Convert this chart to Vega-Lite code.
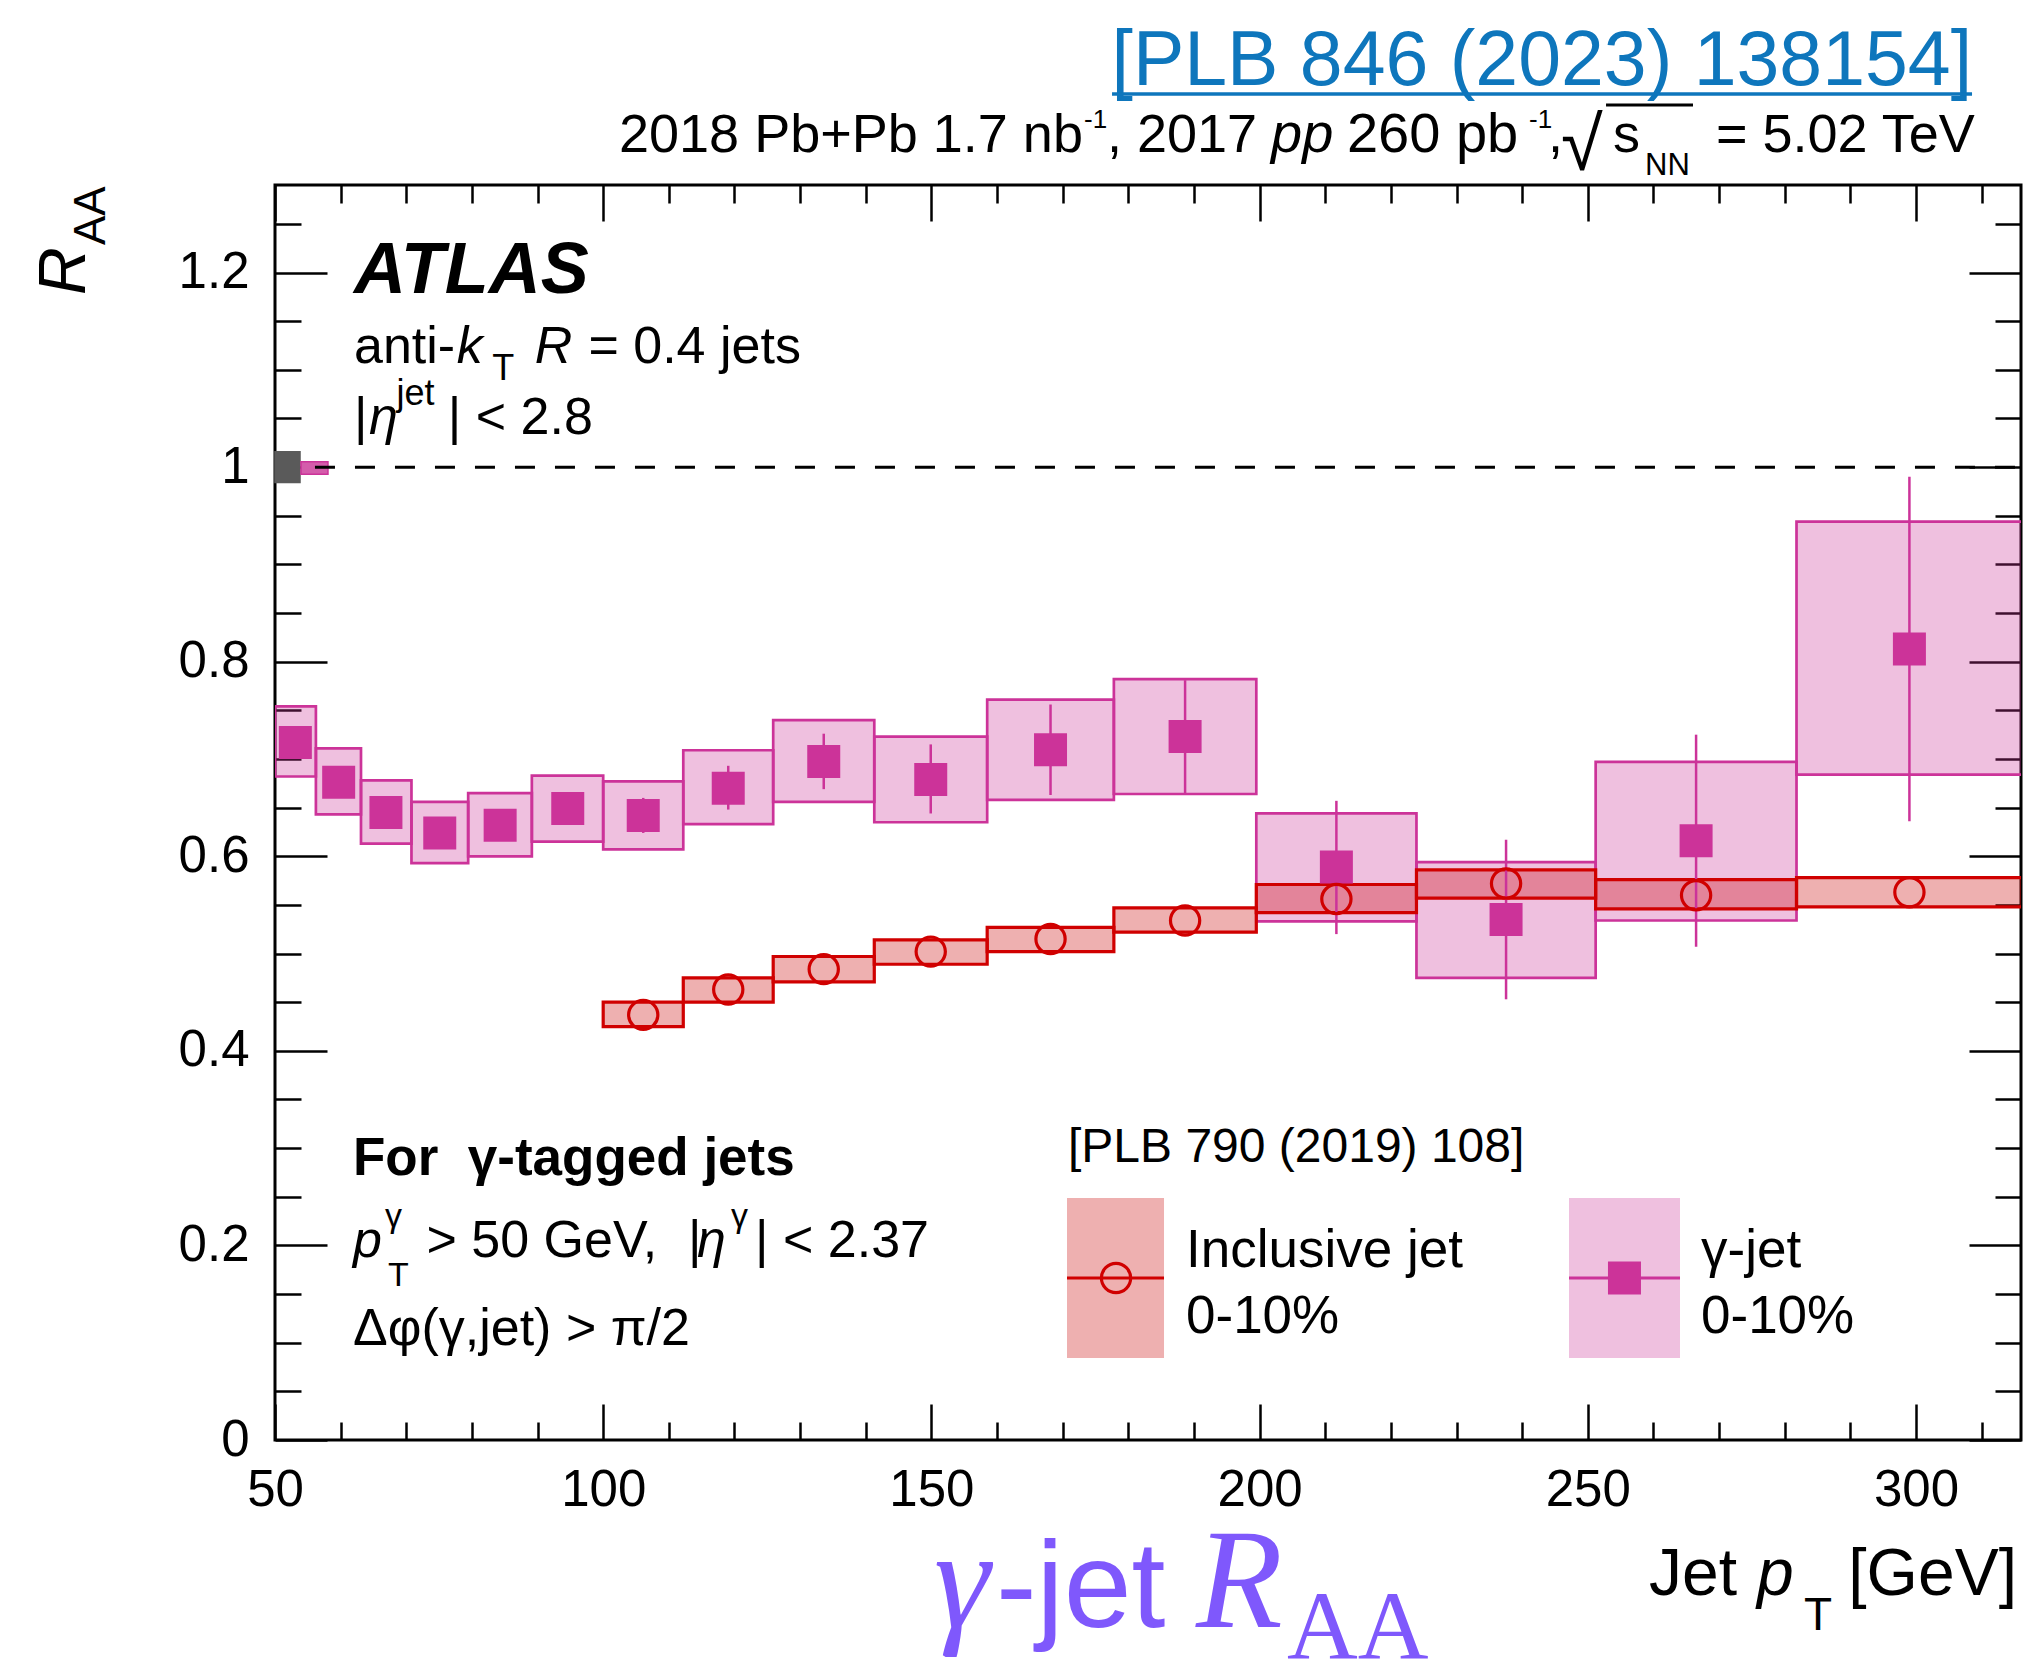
{
  "$schema": "https://vega.github.io/schema/vega-lite/v6.json",
  "width": 1746,
  "height": 1255,
  "autosize": {"type": "none"},
  "padding": {"left": 275, "top": 185, "right": 2, "bottom": 221},
  "background": "white",
  "config": {"view": {"stroke": "black", "strokeWidth": 3}, "axis": {"grid": false}},
  "data": {"values": [{}]},
  "datasets": {
    "gamma": [
      {"ptLo": 50, "ptHi": 56.23, "pt": 53.1, "raa": 0.717, "statLo": 0.707, "statHi": 0.727, "sysLo": 0.682, "sysHi": 0.754},
      {"ptLo": 56.23, "ptHi": 63.1, "pt": 59.7, "raa": 0.676, "statLo": 0.666, "statHi": 0.686, "sysLo": 0.643, "sysHi": 0.711},
      {"ptLo": 63.1, "ptHi": 70.79, "pt": 66.9, "raa": 0.645, "statLo": 0.635, "statHi": 0.655, "sysLo": 0.613, "sysHi": 0.678},
      {"ptLo": 70.79, "ptHi": 79.43, "pt": 75.1, "raa": 0.624, "statLo": 0.614, "statHi": 0.634, "sysLo": 0.593, "sysHi": 0.656},
      {"ptLo": 79.43, "ptHi": 89.13, "pt": 84.3, "raa": 0.632, "statLo": 0.622, "statHi": 0.642, "sysLo": 0.6, "sysHi": 0.665},
      {"ptLo": 89.13, "ptHi": 100, "pt": 94.6, "raa": 0.649, "statLo": 0.639, "statHi": 0.659, "sysLo": 0.615, "sysHi": 0.683},
      {"ptLo": 100, "ptHi": 112.2, "pt": 106.1, "raa": 0.642, "statLo": 0.624, "statHi": 0.66, "sysLo": 0.607, "sysHi": 0.677},
      {"ptLo": 112.2, "ptHi": 125.9, "pt": 119.05, "raa": 0.67, "statLo": 0.648, "statHi": 0.693, "sysLo": 0.633, "sysHi": 0.709},
      {"ptLo": 125.9, "ptHi": 141.3, "pt": 133.6, "raa": 0.6975, "statLo": 0.669, "statHi": 0.726, "sysLo": 0.656, "sysHi": 0.74},
      {"ptLo": 141.3, "ptHi": 158.5, "pt": 149.9, "raa": 0.679, "statLo": 0.644, "statHi": 0.715, "sysLo": 0.635, "sysHi": 0.723},
      {"ptLo": 158.5, "ptHi": 177.8, "pt": 168.15, "raa": 0.7095, "statLo": 0.663, "statHi": 0.756, "sysLo": 0.658, "sysHi": 0.761},
      {"ptLo": 177.8, "ptHi": 199.5, "pt": 188.65, "raa": 0.723, "statLo": 0.665, "statHi": 0.781, "sysLo": 0.664, "sysHi": 0.782},
      {"ptLo": 199.5, "ptHi": 223.9, "pt": 211.7, "raa": 0.589, "statLo": 0.52, "statHi": 0.657, "sysLo": 0.533, "sysHi": 0.644},
      {"ptLo": 223.9, "ptHi": 251.2, "pt": 237.55, "raa": 0.535, "statLo": 0.453, "statHi": 0.617, "sysLo": 0.475, "sysHi": 0.594},
      {"ptLo": 251.2, "ptHi": 281.8, "pt": 266.5, "raa": 0.616, "statLo": 0.507, "statHi": 0.725, "sysLo": 0.534, "sysHi": 0.697},
      {"ptLo": 281.8, "ptHi": 316.2, "pt": 299.0, "raa": 0.813, "statLo": 0.636, "statHi": 0.99, "sysLo": 0.684, "sysHi": 0.944}
    ],
    "incl": [
      {"ptLo": 100, "ptHi": 112.2, "pt": 106.1, "raa": 0.437, "sysLo": 0.425, "sysHi": 0.45},
      {"ptLo": 112.2, "ptHi": 125.9, "pt": 119.05, "raa": 0.463, "sysLo": 0.45, "sysHi": 0.475},
      {"ptLo": 125.9, "ptHi": 141.3, "pt": 133.6, "raa": 0.484, "sysLo": 0.471, "sysHi": 0.497},
      {"ptLo": 141.3, "ptHi": 158.5, "pt": 149.9, "raa": 0.502, "sysLo": 0.489, "sysHi": 0.514},
      {"ptLo": 158.5, "ptHi": 177.8, "pt": 168.15, "raa": 0.515, "sysLo": 0.502, "sysHi": 0.527},
      {"ptLo": 177.8, "ptHi": 199.5, "pt": 188.65, "raa": 0.534, "sysLo": 0.522, "sysHi": 0.547},
      {"ptLo": 199.5, "ptHi": 223.9, "pt": 211.7, "raa": 0.556, "sysLo": 0.542, "sysHi": 0.571},
      {"ptLo": 223.9, "ptHi": 251.2, "pt": 237.55, "raa": 0.572, "sysLo": 0.557, "sysHi": 0.586},
      {"ptLo": 251.2, "ptHi": 281.8, "pt": 266.5, "raa": 0.56, "sysLo": 0.546, "sysHi": 0.576},
      {"ptLo": 281.8, "ptHi": 316.2, "pt": 299.0, "raa": 0.563, "sysLo": 0.548, "sysHi": 0.578}
    ],
    "norm": [
      {"series": "global", "ptLo": 50, "ptHi": 53.81, "lo": 0.9843, "hi": 1.0157},
      {"series": "gamma", "ptLo": 53.96, "ptHi": 58.07, "lo": 0.9926, "hi": 1.0055}
    ]
  },
  "layer": [
    {
      "data": {"name": "gamma"},
      "mark": {"type": "rect", "fill": "#cc3399", "fillOpacity": 0.31, "stroke": "#cc3399", "strokeWidth": 2.7, "clip": true},
      "encoding": {
        "x": {"field": "ptLo", "type": "quantitative",
          "scale": {"domain": [50, 316], "nice": false, "zero": false},
          "axis": {"orient": "bottom", "values": [50,60,70,80,90,100,110,120,130,140,150,160,170,180,190,200,210,220,230,240,250,260,270,280,290,300,310],
            "domain": false, "grid": false, "tickColor": "black", "tickWidth": 2.5,
            "tickSize": {"condition": {"test": "datum.value % 50 === 0", "value": -36}, "value": -18},
            "labelExpr": "datum.value % 50 === 0 ? datum.label : ''",
            "labelFont": "Liberation Sans", "labelFontSize": 51, "labelColor": "black",
            "labelPadding": 61, "labelBaseline": "top", "labelAlign": "center",
            "labelFlush": false, "labelOverlap": false, "labelBound": false, "title": null}},
        "x2": {"field": "ptHi"},
        "y": {"field": "sysLo", "type": "quantitative",
          "scale": {"domain": [0, 1.29], "nice": false, "zero": false},
          "axis": {"orient": "left", "values": [0,0.05,0.1,0.15,0.2,0.25,0.3,0.35,0.4,0.45,0.5,0.55,0.6,0.65,0.7,0.75,0.8,0.85,0.9,0.95,1,1.05,1.1,1.15,1.2,1.25],
            "domain": false, "grid": false, "tickColor": "black", "tickWidth": 2.5,
            "tickSize": {"condition": {"test": "round(datum.value*100) % 20 === 0", "value": -52}, "value": -26},
            "labelExpr": "round(datum.value*100) % 20 === 0 ? format(datum.value, '~g') : ''",
            "labelFont": "Liberation Sans", "labelFontSize": 51, "labelColor": "black",
            "labelPadding": 78, "labelBaseline": "middle", "labelAlign": "right",
            "labelFlush": false, "labelOverlap": false, "labelBound": false, "title": null}},
        "y2": {"field": "sysHi"}
      }
    },
    {
      "data": {"name": "incl"},
      "mark": {"type": "rect", "fill": "#c80000", "fillOpacity": 0.31, "stroke": "#d00000", "strokeWidth": 3.2, "clip": true},
      "encoding": {
        "x": {"field": "ptLo", "type": "quantitative",
          "axis": {"orient": "top", "values": [50,60,70,80,90,100,110,120,130,140,150,160,170,180,190,200,210,220,230,240,250,260,270,280,290,300,310],
            "domain": false, "grid": false, "labels": false, "tickColor": "black", "tickWidth": 2.5,
            "tickSize": {"condition": {"test": "datum.value % 50 === 0", "value": -36}, "value": -18}, "title": null}},
        "x2": {"field": "ptHi"},
        "y": {"field": "sysLo", "type": "quantitative",
          "axis": {"orient": "right", "values": [0,0.05,0.1,0.15,0.2,0.25,0.3,0.35,0.4,0.45,0.5,0.55,0.6,0.65,0.7,0.75,0.8,0.85,0.9,0.95,1,1.05,1.1,1.15,1.2,1.25],
            "domain": false, "grid": false, "labels": false, "tickColor": "black", "tickWidth": 2.5,
            "tickSize": {"condition": {"test": "round(datum.value*100) % 20 === 0", "value": -52}, "value": -26}, "title": null}},
        "y2": {"field": "sysHi"}
      }
    },
    {
      "data": {"name": "norm"},
      "mark": {"type": "rect", "strokeWidth": 1.5, "opacity": 1},
      "encoding": {
        "x": {"field": "ptLo", "type": "quantitative", "axis": null},
        "x2": {"field": "ptHi"},
        "y": {"field": "lo", "type": "quantitative", "axis": null},
        "y2": {"field": "hi"},
        "fill": {"field": "series", "type": "nominal", "scale": {"domain": ["global", "gamma"], "range": ["#5a5a5a", "#d45cab"]}, "legend": null},
        "stroke": {"field": "series", "type": "nominal", "scale": {"domain": ["global", "gamma"], "range": ["#5a5a5a", "#cc3399"]}, "legend": null}
      }
    },
    {
      "mark": {"type": "rule", "stroke": "black", "strokeWidth": 3, "strokeDash": [20, 20]},
      "encoding": {"x": {"datum": 56.09, "axis": null}, "x2": {"datum": 316}, "y": {"datum": 1, "axis": null}}
    },
    {
      "data": {"name": "gamma"},
      "mark": {"type": "rule", "stroke": "#cc3399", "strokeWidth": 2.5},
      "encoding": {
        "x": {"field": "pt", "type": "quantitative", "axis": null},
        "y": {"field": "statLo", "type": "quantitative", "axis": null},
        "y2": {"field": "statHi"}
      }
    },
    {
      "data": {"name": "gamma"},
      "mark": {"type": "point", "shape": "square", "size": 1089, "filled": true, "fill": "#cc3399", "opacity": 1, "strokeWidth": 0},
      "encoding": {
        "x": {"field": "pt", "type": "quantitative", "axis": null},
        "y": {"field": "raa", "type": "quantitative", "axis": null}
      }
    },
    {
      "data": {"name": "incl"},
      "mark": {"type": "point", "shape": "circle", "size": 855, "filled": false, "stroke": "#d00000", "strokeWidth": 3.2, "opacity": 1},
      "encoding": {
        "x": {"field": "pt", "type": "quantitative", "axis": null},
        "y": {"field": "raa", "type": "quantitative", "axis": null}
      }
    },
    {
      "mark": {"type": "rect", "fill": "#c80000", "fillOpacity": 0.31, "strokeWidth": 0},
      "encoding": {"x": {"datum": 170.66, "axis": null}, "x2": {"datum": 185.44}, "y": {"datum": 0.0843, "axis": null}, "y2": {"datum": 0.2487}}
    },
    {
      "mark": {"type": "rect", "fill": "#cc3399", "fillOpacity": 0.31, "strokeWidth": 0},
      "encoding": {"x": {"datum": 247.14, "axis": null}, "x2": {"datum": 264.05}, "y": {"datum": 0.0843, "axis": null}, "y2": {"datum": 0.2487}}
    },
    {
      "mark": {"type": "rule", "stroke": "#d00000", "strokeWidth": 3.2},
      "encoding": {"x": {"datum": 170.66, "axis": null}, "x2": {"datum": 185.44}, "y": {"datum": 0.1665, "axis": null}}
    },
    {
      "mark": {"type": "rule", "stroke": "#cc3399", "strokeWidth": 3},
      "encoding": {"x": {"datum": 247.14, "axis": null}, "x2": {"datum": 264.05}, "y": {"datum": 0.1665, "axis": null}}
    },
    {
      "mark": {"type": "point", "shape": "circle", "size": 855, "filled": false, "stroke": "#d00000", "strokeWidth": 3.2, "opacity": 1},
      "encoding": {"x": {"datum": 178.13, "axis": null}, "y": {"datum": 0.1665, "axis": null}}
    },
    {
      "mark": {"type": "point", "shape": "square", "size": 1089, "filled": true, "fill": "#cc3399", "opacity": 1, "strokeWidth": 0},
      "encoding": {"x": {"datum": 255.59, "axis": null}, "y": {"datum": 0.1665, "axis": null}}
    },
    {
      "mark": {"type": "text", "text": "[PLB 846 (2023) 138154]", "font": "Liberation Sans", "fontSize": 77, "align": "right", "baseline": "alphabetic", "fill": "#0e76bc"},
      "encoding": {"x": {"datum": 308.54, "axis": null}, "y": {"datum": 1.3928, "axis": null}}
    },
    {
      "mark": {"type": "rule", "stroke": "#0e76bc", "strokeWidth": 3.5},
      "encoding": {"x": {"datum": 177.52, "axis": null}, "x2": {"datum": 308.54}, "y": {"datum": 1.3835, "axis": null}}
    },
    {
      "mark": {"type": "text", "text": "2018 Pb+Pb 1.7 nb", "font": "Liberation Sans", "fontSize": 54, "align": "left", "baseline": "alphabetic", "fill": "black"},
      "encoding": {"x": {"datum": 102.41, "axis": null}, "y": {"datum": 1.3239, "axis": null}}
    },
    {
      "mark": {"type": "text", "text": "-1", "font": "Liberation Sans", "fontSize": 26, "align": "left", "baseline": "alphabetic", "fill": "black"},
      "encoding": {"x": {"datum": 173.25, "axis": null}, "y": {"datum": 1.3486, "axis": null}}
    },
    {
      "mark": {"type": "text", "text": ", 2017", "font": "Liberation Sans", "fontSize": 54, "align": "left", "baseline": "alphabetic", "fill": "black"},
      "encoding": {"x": {"datum": 176.75, "axis": null}, "y": {"datum": 1.3239, "axis": null}}
    },
    {
      "mark": {"type": "text", "text": "pp", "font": "Liberation Sans", "fontSize": 56, "fontStyle": "italic", "align": "left", "baseline": "alphabetic", "fill": "black"},
      "encoding": {"x": {"datum": 201.74, "axis": null}, "y": {"datum": 1.3239, "axis": null}}
    },
    {
      "mark": {"type": "text", "text": "260 pb", "font": "Liberation Sans", "fontSize": 56, "align": "left", "baseline": "alphabetic", "fill": "black"},
      "encoding": {"x": {"datum": 213.3, "axis": null}, "y": {"datum": 1.3239, "axis": null}}
    },
    {
      "mark": {"type": "text", "text": "-1", "font": "Liberation Sans", "fontSize": 26, "align": "left", "baseline": "alphabetic", "fill": "black"},
      "encoding": {"x": {"datum": 241.05, "axis": null}, "y": {"datum": 1.3486, "axis": null}}
    },
    {
      "mark": {"type": "text", "text": ",", "font": "Liberation Sans", "fontSize": 54, "align": "left", "baseline": "alphabetic", "fill": "black"},
      "encoding": {"x": {"datum": 243.94, "axis": null}, "y": {"datum": 1.3239, "axis": null}}
    },
    {
      "mark": {"type": "text", "text": "√", "font": "Liberation Sans", "fontSize": 76, "align": "left", "baseline": "alphabetic", "fill": "black"},
      "encoding": {"x": {"datum": 245.92, "axis": null}, "y": {"datum": 1.3054, "axis": null}}
    },
    {
      "mark": {"type": "rule", "stroke": "black", "strokeWidth": 3},
      "encoding": {"x": {"datum": 252.78, "axis": null}, "x2": {"datum": 266.03}, "y": {"datum": 1.3722, "axis": null}}
    },
    {
      "mark": {"type": "text", "text": "s", "font": "Liberation Sans", "fontSize": 54, "align": "left", "baseline": "alphabetic", "fill": "black"},
      "encoding": {"x": {"datum": 253.84, "axis": null}, "y": {"datum": 1.3239, "axis": null}}
    },
    {
      "mark": {"type": "text", "text": "NN", "font": "Liberation Sans", "fontSize": 31, "align": "left", "baseline": "alphabetic", "fill": "black"},
      "encoding": {"x": {"datum": 258.72, "axis": null}, "y": {"datum": 1.3003, "axis": null}}
    },
    {
      "mark": {"type": "text", "text": "= 5.02 TeV", "font": "Liberation Sans", "fontSize": 54, "align": "left", "baseline": "alphabetic", "fill": "black"},
      "encoding": {"x": {"datum": 269.53, "axis": null}, "y": {"datum": 1.3239, "axis": null}}
    },
    {
      "mark": {"type": "text", "text": "ATLAS", "font": "Liberation Sans", "fontSize": 72, "fontWeight": "bold", "fontStyle": "italic", "align": "left", "baseline": "alphabetic", "fill": "black"},
      "encoding": {"x": {"datum": 62.04, "axis": null}, "y": {"datum": 1.179, "axis": null}}
    },
    {
      "mark": {"type": "text", "text": "anti-", "font": "Liberation Sans", "fontSize": 52, "align": "left", "baseline": "alphabetic", "fill": "black"},
      "encoding": {"x": {"datum": 62.04, "axis": null}, "y": {"datum": 1.107, "axis": null}}
    },
    {
      "mark": {"type": "text", "text": "k", "font": "Liberation Sans", "fontSize": 52, "fontStyle": "italic", "align": "left", "baseline": "alphabetic", "fill": "black"},
      "encoding": {"x": {"datum": 77.68, "axis": null}, "y": {"datum": 1.107, "axis": null}}
    },
    {
      "mark": {"type": "text", "text": "T", "font": "Liberation Sans", "fontSize": 36, "align": "left", "baseline": "alphabetic", "fill": "black"},
      "encoding": {"x": {"datum": 83.1, "axis": null}, "y": {"datum": 1.0896, "axis": null}}
    },
    {
      "mark": {"type": "text", "text": "R", "font": "Liberation Sans", "fontSize": 52, "fontStyle": "italic", "align": "left", "baseline": "alphabetic", "fill": "black"},
      "encoding": {"x": {"datum": 89.58, "axis": null}, "y": {"datum": 1.107, "axis": null}}
    },
    {
      "mark": {"type": "text", "text": "= 0.4 jets", "font": "Liberation Sans", "fontSize": 52, "align": "left", "baseline": "alphabetic", "fill": "black"},
      "encoding": {"x": {"datum": 97.75, "axis": null}, "y": {"datum": 1.107, "axis": null}}
    },
    {
      "mark": {"type": "text", "text": "|", "font": "Liberation Sans", "fontSize": 52, "align": "left", "baseline": "alphabetic", "fill": "black"},
      "encoding": {"x": {"datum": 62.04, "axis": null}, "y": {"datum": 1.0345, "axis": null}}
    },
    {
      "mark": {"type": "text", "text": "η", "font": "Liberation Sans", "fontSize": 52, "fontStyle": "italic", "align": "left", "baseline": "alphabetic", "fill": "black"},
      "encoding": {"x": {"datum": 64.32, "axis": null}, "y": {"datum": 1.0345, "axis": null}}
    },
    {
      "mark": {"type": "text", "text": "jet", "font": "Liberation Sans", "fontSize": 36, "align": "left", "baseline": "alphabetic", "fill": "black"},
      "encoding": {"x": {"datum": 68.5, "axis": null}, "y": {"datum": 1.0639, "axis": null}}
    },
    {
      "mark": {"type": "text", "text": "| < 2.8", "font": "Liberation Sans", "fontSize": 52, "align": "left", "baseline": "alphabetic", "fill": "black"},
      "encoding": {"x": {"datum": 76.33, "axis": null}, "y": {"datum": 1.0345, "axis": null}}
    },
    {
      "mark": {"type": "text", "text": "For\u00a0 γ-tagged jets", "font": "Liberation Sans", "fontSize": 53, "fontWeight": "bold", "align": "left", "baseline": "alphabetic", "fill": "black"},
      "encoding": {"x": {"datum": 61.88, "axis": null}, "y": {"datum": 0.2724, "axis": null}}
    },
    {
      "mark": {"type": "text", "text": "p", "font": "Liberation Sans", "fontSize": 52, "fontStyle": "italic", "align": "left", "baseline": "alphabetic", "fill": "black"},
      "encoding": {"x": {"datum": 61.88, "axis": null}, "y": {"datum": 0.1881, "axis": null}}
    },
    {
      "mark": {"type": "text", "text": "γ", "font": "Liberation Sans", "fontSize": 34, "align": "left", "baseline": "alphabetic", "fill": "black"},
      "encoding": {"x": {"datum": 66.76, "axis": null}, "y": {"datum": 0.2189, "axis": null}}
    },
    {
      "mark": {"type": "text", "text": "T", "font": "Liberation Sans", "fontSize": 34, "align": "left", "baseline": "alphabetic", "fill": "black"},
      "encoding": {"x": {"datum": 67.22, "axis": null}, "y": {"datum": 0.1583, "axis": null}}
    },
    {
      "mark": {"type": "text", "text": "> 50 GeV,", "font": "Liberation Sans", "fontSize": 52, "align": "left", "baseline": "alphabetic", "fill": "black"},
      "encoding": {"x": {"datum": 73.07, "axis": null}, "y": {"datum": 0.1881, "axis": null}}
    },
    {
      "mark": {"type": "text", "text": "|", "font": "Liberation Sans", "fontSize": 52, "align": "left", "baseline": "alphabetic", "fill": "black"},
      "encoding": {"x": {"datum": 112.92, "axis": null}, "y": {"datum": 0.1881, "axis": null}}
    },
    {
      "mark": {"type": "text", "text": "η", "font": "Liberation Sans", "fontSize": 52, "fontStyle": "italic", "align": "left", "baseline": "alphabetic", "fill": "black"},
      "encoding": {"x": {"datum": 114.29, "axis": null}, "y": {"datum": 0.1881, "axis": null}}
    },
    {
      "mark": {"type": "text", "text": "γ", "font": "Liberation Sans", "fontSize": 34, "align": "left", "baseline": "alphabetic", "fill": "black"},
      "encoding": {"x": {"datum": 119.47, "axis": null}, "y": {"datum": 0.2189, "axis": null}}
    },
    {
      "mark": {"type": "text", "text": "| < 2.37", "font": "Liberation Sans", "fontSize": 52, "align": "left", "baseline": "alphabetic", "fill": "black"},
      "encoding": {"x": {"datum": 123.13, "axis": null}, "y": {"datum": 0.1881, "axis": null}}
    },
    {
      "mark": {"type": "text", "text": "Δφ(γ,jet) > π/2", "font": "Liberation Sans", "fontSize": 52, "align": "left", "baseline": "alphabetic", "fill": "black"},
      "encoding": {"x": {"datum": 61.88, "axis": null}, "y": {"datum": 0.0976, "axis": null}}
    },
    {
      "mark": {"type": "text", "text": "[PLB 790 (2019) 108]", "font": "Liberation Sans", "fontSize": 48, "align": "left", "baseline": "alphabetic", "fill": "black"},
      "encoding": {"x": {"datum": 170.81, "axis": null}, "y": {"datum": 0.2858, "axis": null}}
    },
    {
      "mark": {"type": "text", "text": "Inclusive jet", "font": "Liberation Sans", "fontSize": 53, "align": "left", "baseline": "alphabetic", "fill": "black"},
      "encoding": {"x": {"datum": 188.79, "axis": null}, "y": {"datum": 0.1778, "axis": null}}
    },
    {
      "mark": {"type": "text", "text": "0-10%", "font": "Liberation Sans", "fontSize": 53, "align": "left", "baseline": "alphabetic", "fill": "black"},
      "encoding": {"x": {"datum": 188.79, "axis": null}, "y": {"datum": 0.11, "axis": null}}
    },
    {
      "mark": {"type": "text", "text": "γ-jet", "font": "Liberation Sans", "fontSize": 53, "align": "left", "baseline": "alphabetic", "fill": "black"},
      "encoding": {"x": {"datum": 267.25, "axis": null}, "y": {"datum": 0.1778, "axis": null}}
    },
    {
      "mark": {"type": "text", "text": "0-10%", "font": "Liberation Sans", "fontSize": 53, "align": "left", "baseline": "alphabetic", "fill": "black"},
      "encoding": {"x": {"datum": 267.25, "axis": null}, "y": {"datum": 0.11, "axis": null}}
    },
    {
      "mark": {"type": "text", "text": "Jet", "font": "Liberation Sans", "fontSize": 66, "align": "left", "baseline": "alphabetic", "fill": "black"},
      "encoding": {"x": {"datum": 259.33, "axis": null}, "y": {"datum": -0.1593, "axis": null}}
    },
    {
      "mark": {"type": "text", "text": "p", "font": "Liberation Sans", "fontSize": 66, "fontStyle": "italic", "align": "left", "baseline": "alphabetic", "fill": "black"},
      "encoding": {"x": {"datum": 275.78, "axis": null}, "y": {"datum": -0.1593, "axis": null}}
    },
    {
      "mark": {"type": "text", "text": "T", "font": "Liberation Sans", "fontSize": 46, "align": "left", "baseline": "alphabetic", "fill": "black"},
      "encoding": {"x": {"datum": 282.94, "axis": null}, "y": {"datum": -0.1953, "axis": null}}
    },
    {
      "mark": {"type": "text", "text": "[GeV]", "font": "Liberation Sans", "fontSize": 66, "align": "right", "baseline": "alphabetic", "fill": "black"},
      "encoding": {"x": {"datum": 315.39, "axis": null}, "y": {"datum": -0.1593, "axis": null}}
    },
    {
      "mark": {"type": "text", "text": "R", "font": "Liberation Sans", "fontSize": 66, "fontStyle": "italic", "angle": 270, "align": "left", "baseline": "alphabetic", "fill": "black"},
      "encoding": {"x": {"datum": 21.05, "axis": null}, "y": {"datum": 1.1769, "axis": null}}
    },
    {
      "mark": {"type": "text", "text": "AA", "font": "Liberation Sans", "fontSize": 44, "angle": 270, "align": "left", "baseline": "alphabetic", "fill": "black"},
      "encoding": {"x": {"datum": 24.1, "axis": null}, "y": {"datum": 1.2283, "axis": null}}
    },
    {
      "mark": {"type": "text", "text": "γ", "font": "Liberation Serif", "fontSize": 142, "fontStyle": "italic", "align": "left", "baseline": "alphabetic", "fill": "#7f58fc"},
      "encoding": {"x": {"datum": 150.4, "axis": null}, "y": {"datum": -0.1922, "axis": null}}
    },
    {
      "mark": {"type": "text", "text": "-jet", "font": "Liberation Sans", "fontSize": 122, "align": "left", "baseline": "alphabetic", "fill": "#7f58fc"},
      "encoding": {"x": {"datum": 159.84, "axis": null}, "y": {"datum": -0.1922, "axis": null}}
    },
    {
      "mark": {"type": "text", "text": "R", "font": "Liberation Serif", "fontSize": 142, "fontStyle": "italic", "align": "left", "baseline": "alphabetic", "fill": "#7f58fc"},
      "encoding": {"x": {"datum": 190.31, "axis": null}, "y": {"datum": -0.1922, "axis": null}}
    },
    {
      "mark": {"type": "text", "text": "AA", "font": "Liberation Serif", "fontSize": 98, "align": "left", "baseline": "alphabetic", "fill": "#7f58fc"},
      "encoding": {"x": {"datum": 204.18, "axis": null}, "y": {"datum": -0.2241, "axis": null}}
    }
  ],
  "resolve": {"axis": {"x": "independent", "y": "independent"}}
}
